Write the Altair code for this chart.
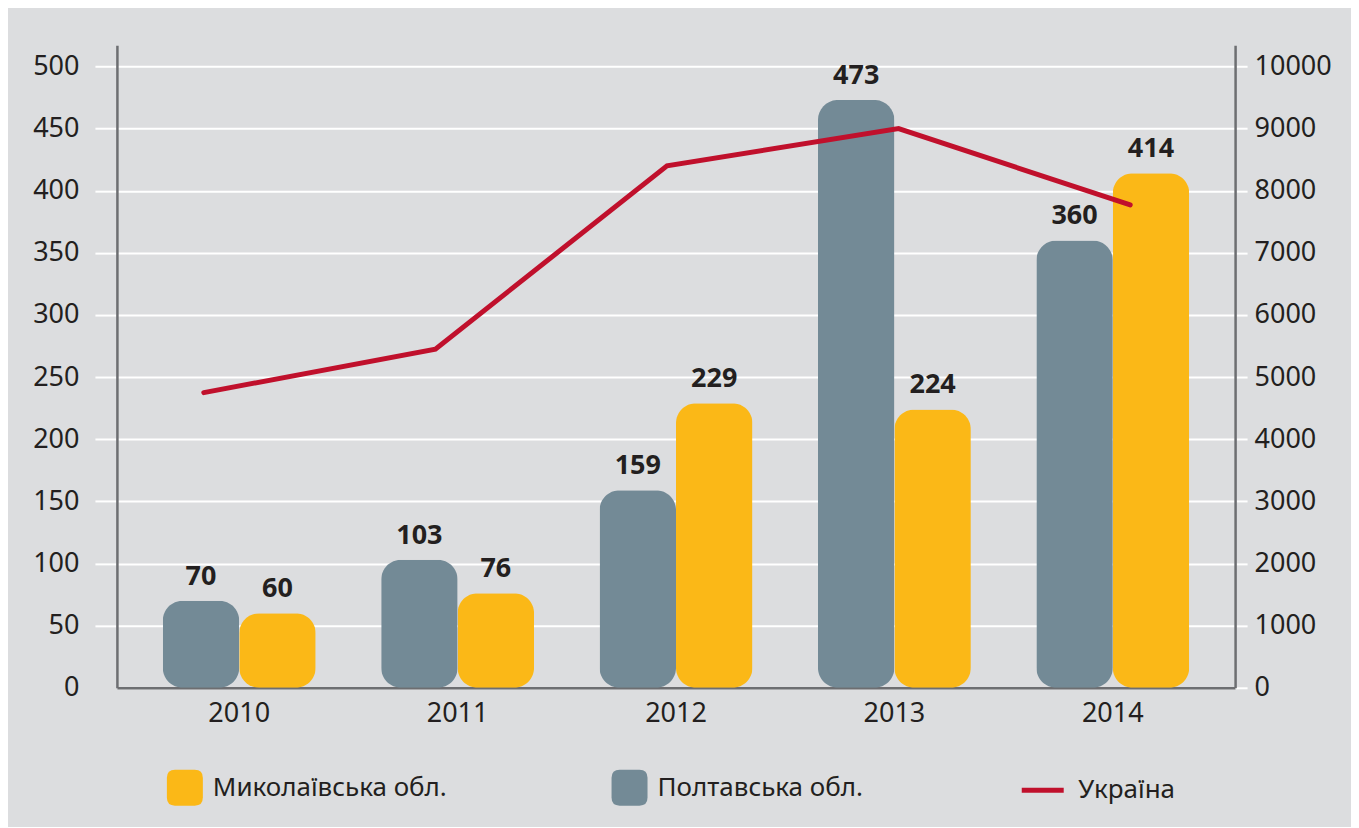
import altair as alt
import pandas as pd

years = ["2010", "2011", "2012", "2013", "2014"]
poltava = [70, 103, 159, 473, 360]
mykolaiv = [60, 76, 229, 224, 414]
ukraine = [4750, 5450, 8400, 9000, 7770]

S_MYK = "Миколаївська обл."
S_POL = "Полтавська обл."
S_UKR = "Україна"

bars_df = pd.DataFrame(
    [{"year": y, "series": S_POL, "value": v} for y, v in zip(years, poltava)]
    + [{"year": y, "series": S_MYK, "value": v} for y, v in zip(years, mykolaiv)]
)
line_df = pd.DataFrame({"year": years, "value": ukraine, "series": [S_UKR] * len(years)})

FONT = "Noto Sans"
TEXT = "#231f20"
GRAY_AX = "#6d6e71"
BAR_GRAY = "#738a96"
BAR_YEL = "#fbb817"
RED = "#c0102c"
FS = 27

x_band = alt.X("year:N", title=None,
               scale=alt.Scale(paddingInner=0.30, paddingOuter=0.21),
               axis=alt.Axis(labelAngle=0, ticks=False, labelPadding=13, labelFontSize=FS,
                             domainColor=GRAY_AX, domainWidth=2.5, labelColor=TEXT))
x_off = alt.XOffset("series:N", sort=[S_POL, S_MYK], scale=alt.Scale(paddingInner=0))
y_left = alt.Y("value:Q", title=None,
               scale=alt.Scale(domain=[0, 517], nice=False, zero=True),
               axis=alt.Axis(values=list(range(0, 501, 50)), tickSize=22, tickWidth=2,
                             tickColor={"condition": {"test": "datum.value === 0", "value": "transparent"}, "value": "white"},
                             labelPadding=16, labelFontSize=FS, labelColor=TEXT,
                             domainColor=GRAY_AX, domainWidth=2.5,
                             grid=True, gridColor="white", gridWidth=2))

bars = alt.Chart(bars_df).mark_bar(cornerRadius=20).encode(
    x=x_band,
    xOffset=x_off,
    y=y_left,
    fill=alt.Fill("series:N",
                  scale=alt.Scale(domain=[S_MYK, S_POL], range=[BAR_YEL, BAR_GRAY]),
                  legend=alt.Legend(title=None, orient="none", legendX=50, legendY=725,
                                    direction="horizontal", columnPadding=164,
                                    symbolType="M -1 -0.55 Q -1 -1 -0.55 -1 L 0.55 -1 Q 1 -1 1 -0.55 L 1 0.55 Q 1 1 0.55 1 L -0.55 1 Q -1 1 -1 0.55 Z",
                                    symbolSize=1296, symbolStrokeWidth=0, symbolOpacity=1,
                                    labelFontSize=26, labelColor=TEXT, labelOffset=10,
                                    labelLimit=400, padding=0)),
)

labels = alt.Chart(bars_df).mark_text(fontSize=FS, fontWeight="bold", color=TEXT,
                                      baseline="middle", dy=-24).encode(
    x=x_band,
    xOffset=x_off,
    y=y_left,
    text=alt.Text("value:Q"),
)

line = alt.Chart(line_df).mark_line(strokeWidth=5, strokeCap="round").encode(
    x=alt.X("year:N", title=None, axis=None,
            scale=alt.Scale(type="point", padding=0.414, align=0.453)),
    y=alt.Y("value:Q", title=None,
            scale=alt.Scale(domain=[0, 10340], nice=False, zero=True),
            axis=alt.Axis(orient="right", values=list(range(0, 10001, 1000)), format="d",
                          tickSize=12, tickWidth=2, tickColor="white",
                          labelPadding=7, labelFontSize=FS, labelColor=TEXT,
                          domainColor=GRAY_AX, domainWidth=2.5, grid=False)),
    stroke=alt.Stroke("series:N",
                      scale=alt.Scale(domain=[S_UKR], range=[RED]),
                      legend=alt.Legend(title=None, orient="none", legendX=903, legendY=722,
                                        symbolType="stroke", symbolSize=1764,
                                        symbolStrokeWidth=5, labelFontSize=26, labelColor=TEXT,
                                        labelOffset=12, padding=0)),
)

chart = alt.layer(alt.layer(bars, labels), line).resolve_scale(
    x="independent", y="independent"
).properties(
    width=1119, height=643,
    autosize=alt.AutoSizeParams(type="none"),
    padding={"left": 109, "top": 37, "right": 116, "bottom": 139},
).configure(
    background="#dcdddf", font=FONT
).configure_view(stroke=None)

chart.save("out.html", embed_options={"renderer": "svg", "actions": False})
